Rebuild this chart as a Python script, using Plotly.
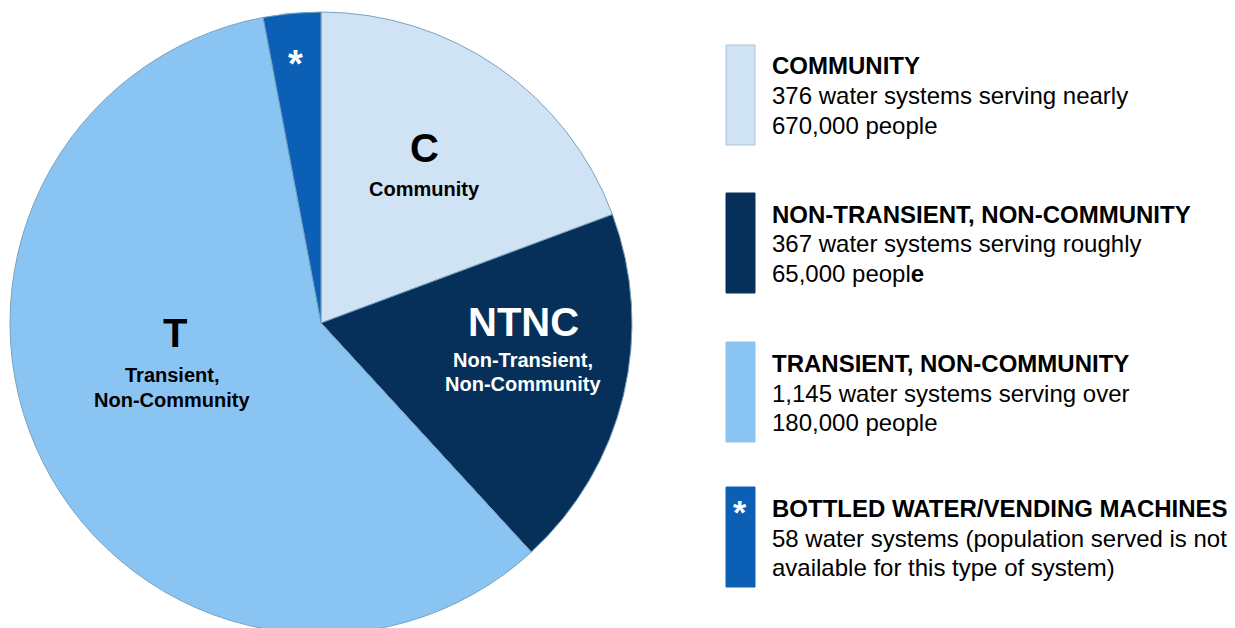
import plotly.graph_objects as go

# ---- data ----
categories = ["Community", "Non-Transient, Non-Community", "Transient, Non-Community", "Bottled Water/Vending Machines"]
systems = [376, 367, 1145, 58]
colors = ["#d0e3f5", "#06305a", "#89c4f3", "#0b60b6"]

legend_titles = ["COMMUNITY", "NON-TRANSIENT, NON-COMMUNITY", "TRANSIENT, NON-COMMUNITY", "BOTTLED WATER/VENDING MACHINES"]
legend_line1 = ["376 water systems serving nearly", "367 water systems serving roughly",
                "1,145 water systems serving over", "58 water systems (population served is not"]
legend_line2 = ["670,000 people", "65,000 peopl<b>e</b>", "180,000 people", "available for this type of system)"]

W, H = 1235, 646
FONT = "Liberation Sans, Arial, sans-serif"


def px(x, y):
    return x / W, 1 - y / H


fig = go.Figure()
fig.add_trace(go.Pie(
    labels=categories,
    values=systems,
    sort=False,
    direction="clockwise",
    rotation=0,
    marker=dict(colors=colors, line=dict(color="#7aa3c0", width=1)),
    textinfo="none",
    hoverinfo="label+value",
    showlegend=False,
    domain=dict(x=[10 / W, 632 / W], y=[1 - 634 / H, 1 - 12 / H]),
))

ann = []


def add_text(x, y, text, size, color="#000000", bold=True, xanchor="center"):
    xp, yp = px(x, y)
    t = f"<b>{text}</b>" if bold else text
    ann.append(dict(x=xp, y=yp, xref="paper", yref="paper", text=t, showarrow=False,
                    xanchor=xanchor, yanchor="middle",
                    font=dict(family=FONT, size=size, color=color)))


# pie labels
add_text(424, 148, "C", 40)
add_text(424, 189, "Community", 20)
add_text(523, 322, "NTNC", 40, "#ffffff")
add_text(523, 360, "Non-Transient,", 20, "#ffffff")
add_text(523, 384, "Non-Community", 20, "#ffffff")
add_text(175, 333, "T", 40)
add_text(172, 375, "Transient,", 20)
add_text(172, 400, "Non-Community", 20)
add_text(295, 64, "*", 38, "#ffffff")

# legend blocks
shapes = []
tops = [45, 193, 342, 487]
for i, top in enumerate(tops):
    x0, y0 = px(726, top)
    x1, y1 = px(755, top + 100)
    shapes.append(dict(type="rect", xref="paper", yref="paper", x0=x0, x1=x1, y0=y1, y1=y0,
                       fillcolor=colors[i], line=dict(color="#b0c4d8" if i == 0 else colors[i], width=1)))
    ty = top + 21
    add_text(770, ty, legend_titles[i], 24, xanchor="left")
    add_text(770, ty + 30, legend_line1[i], 24, bold=False, xanchor="left")
    add_text(770, ty + 59, legend_line2[i], 24, bold=False, xanchor="left")

add_text(740, 512, "*", 34, "#ffffff")

fig.update_layout(
    width=W, height=H,
    margin=dict(l=0, r=0, t=0, b=0),
    paper_bgcolor="#ffffff",
    plot_bgcolor="#ffffff",
    annotations=ann,
    shapes=shapes,
)

fig.write_html("out.html", config={"displayModeBar": False},
               post_script="document.body.style.margin='0';document.body.style.overflow='hidden';")
